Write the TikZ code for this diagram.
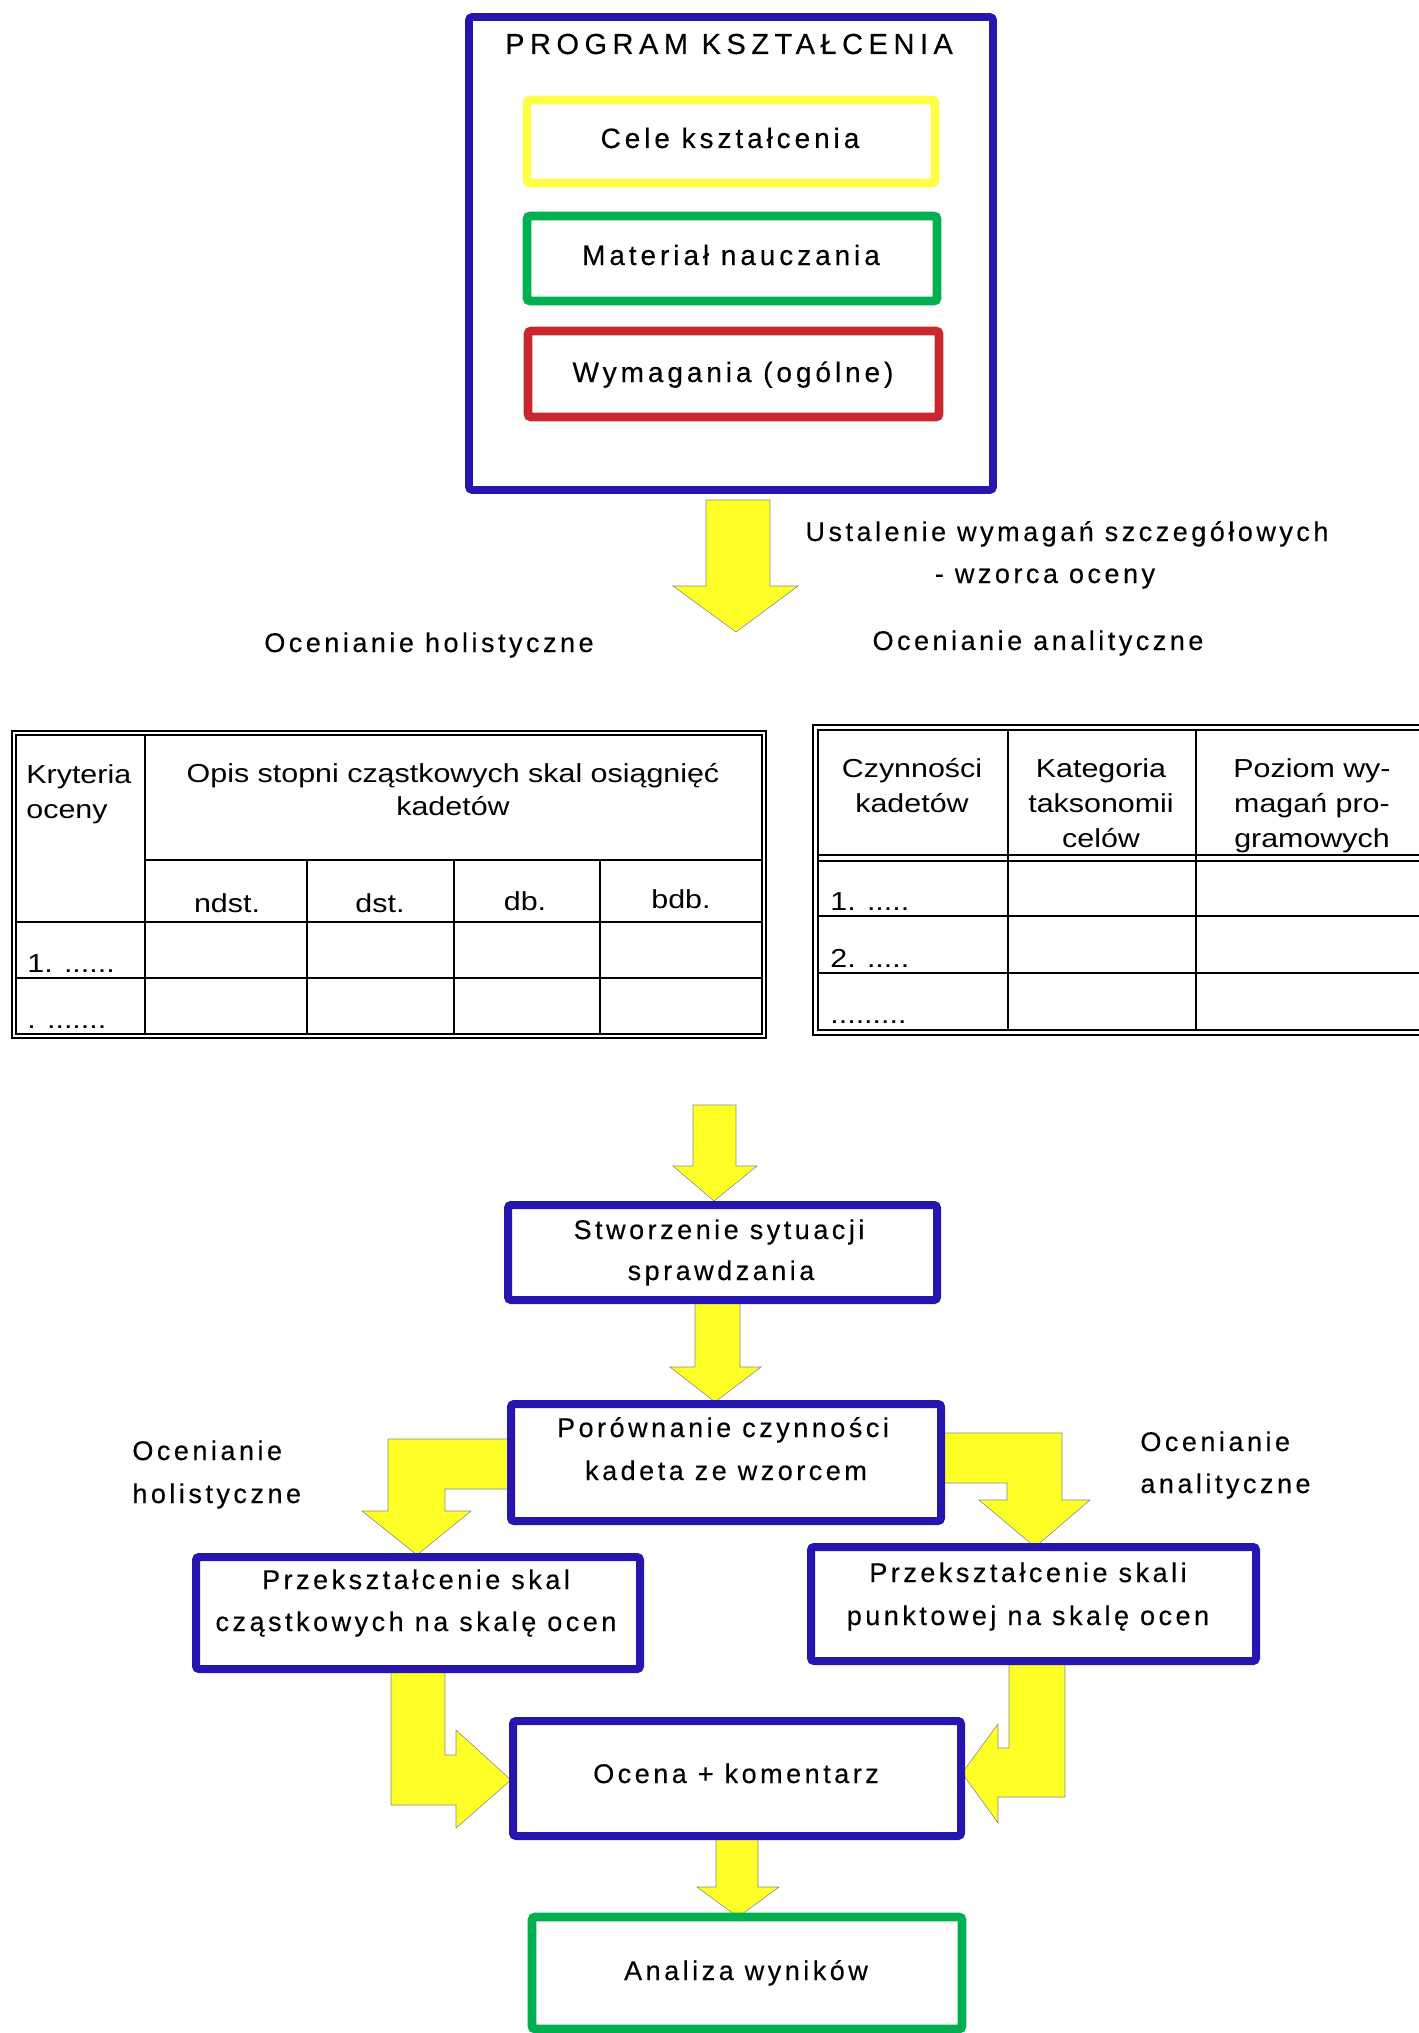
\documentclass[tikz,border=0pt]{standalone}
\usepackage{fontspec}
\setmainfont{Liberation Sans}
\newfontfamily\tabfont[FakeStretch=1.17]{Liberation Sans}
\newfontfamily\flowfont[LetterSpace=13,FakeBold=0.3]{Liberation Sans}
\newfontfamily\innerfont[LetterSpace=14,FakeBold=0.3]{Liberation Sans}
\newfontfamily\titlefont[LetterSpace=19,FakeBold=0.3]{Liberation Sans}
\definecolor{boxblue}{RGB}{38,22,175}
\definecolor{boxyellow}{RGB}{255,255,70}
\definecolor{boxgreen}{RGB}{0,175,80}
\definecolor{boxred}{RGB}{200,40,45}
\definecolor{arrowyellow}{RGB}{255,255,40}
\tikzset{
  framebox/.style={draw, rounded corners=1.5pt, inner sep=0pt},
  bluebox/.style={framebox, draw=boxblue, line width=4pt},
  topframe/.style={framebox, draw=boxblue, line width=3.8pt},
  yelbox/.style={framebox, draw=boxyellow, line width=4.3pt},
  grnbox/.style={framebox, draw=boxgreen, line width=4.3pt},
  redbox/.style={framebox, draw=boxred, line width=4.3pt},
  blockarrow/.style={fill=arrowyellow, draw=black!45, line width=0.3pt},
  tabline/.style={draw=black, line width=1pt},
  ttl/.style={inner sep=0pt, anchor=base, font=\titlefont\fontsize{14.5}{17}\selectfont},
  inn/.style={inner sep=0pt, anchor=base, font=\innerfont\fontsize{14}{17}\selectfont},
  flw/.style={inner sep=0pt, anchor=base, font=\flowfont\fontsize{13.5}{16}\selectfont},
  flwl/.style={inner sep=0pt, anchor=base west, font=\flowfont\fontsize{13.5}{16}\selectfont},
  tab/.style={inner sep=0pt, anchor=base, font=\tabfont\fontsize{13}{15}\selectfont},
  tabl/.style={inner sep=0pt, anchor=base west, font=\tabfont\fontsize{13}{15}\selectfont},
}
\begin{document}
\begin{tikzpicture}[x=0.5pt,y=-0.5pt]
\useasboundingbox (0,0) rectangle (1418,2033);
\fill[white] (0,0) rectangle (1418,2033);

% ---------- block arrows ----------
\draw[blockarrow] (706,500) -- (770,500) -- (770,586) -- (798,586) -- (736,632) -- (673,586) -- (706,586) -- cycle;
\draw[blockarrow] (693,1105) -- (736,1105) -- (736,1166) -- (757,1166) -- (714,1201) -- (673,1166) -- (693,1166) -- cycle;
\draw[blockarrow] (695,1302) -- (740,1302) -- (740,1367) -- (761,1367) -- (715,1402) -- (670,1367) -- (695,1367) -- cycle;
\draw[blockarrow] (511,1439) -- (388,1439) -- (388,1511) -- (362,1511) -- (417,1555) -- (471,1511) -- (445,1511) -- (445,1489) -- (511,1489) -- cycle;
\draw[blockarrow] (941,1433) -- (1062,1433) -- (1062,1500) -- (1090,1500) -- (1035,1547) -- (979,1500) -- (1007,1500) -- (1007,1483) -- (941,1483) -- cycle;
\draw[blockarrow] (391,1669) -- (445,1669) -- (445,1755) -- (456,1755) -- (456,1730) -- (511,1780) -- (456,1828) -- (456,1805) -- (391,1805) -- cycle;
\draw[blockarrow] (1065,1661) -- (1009,1661) -- (1009,1748) -- (998,1748) -- (998,1724) -- (962,1773) -- (998,1823) -- (998,1797) -- (1065,1797) -- cycle;
\draw[blockarrow] (716,1836) -- (758,1836) -- (758,1887) -- (779,1887) -- (738,1917) -- (697,1887) -- (716,1887) -- cycle;

% ---------- top program box ----------
\node[topframe, minimum width=262pt, minimum height=236.5pt] (topbox) at (731,253.5) {};
\node[yelbox, minimum width=204pt, minimum height=41.5pt] (cele) at (731,141.5) {};
\node[grnbox, minimum width=205pt, minimum height=42.5pt] (material) at (732,258.5) {};
\node[redbox, minimum width=205.5pt, minimum height=43pt] (wymag) at (733.5,374) {};
\node[ttl] (t-prog) at (729,54) {PROGRAM KSZTAŁCENIA};
\node[inn] (t-cele) at (730,148) {Cele kształcenia};
\node[inn] (t-mat) at (731,265) {Materiał nauczania};
\node[inn] (t-wym) at (733,382) {Wymagania (ogólne)};

\node[flw] (t-ust1) at (1067,541) {Ustalenie wymagań szczegółowych};
\node[flw] (t-ust2) at (1045,583) {- wzorca oceny};
\node[flw] (t-holtop) at (429,652) {Ocenianie holistyczne};
\node[flw] (t-anatop) at (1038,650) {Ocenianie analityczne};

% ---------- left table ----------
\draw[tabline] (12,731) rectangle (766,1038);
\draw[tabline] (16,735) rectangle (762,1034);
\draw[tabline] (145,735) -- (145,1034);
\draw[tabline] (145,860) -- (762,860);
\draw[tabline] (307,860) -- (307,1034);
\draw[tabline] (454,860) -- (454,1034);
\draw[tabline] (600,860) -- (600,1034);
\draw[tabline] (16,922) -- (762,922);
\draw[tabline] (16,978) -- (762,978);
\node[tabl] (t-kry1) at (26,783) {Kryteria};
\node[tabl] (t-kry2) at (26,818) {oceny};
\node[tab] (t-opis1) at (453,782) {Opis stopni cząstkowych skal osiągnięć};
\node[tab] (t-opis2) at (453,815) {kadetów};
\node[tab] (t-ndst) at (227,912) {ndst.};
\node[tab] (t-dst) at (380,912) {dst.};
\node[tab] (t-db) at (525,910) {db.};
\node[tab] (t-bdb) at (681,908) {bdb.};
\node[tabl] (t-l1) at (27,972) {1. ......};
\node[tabl] (t-l2) at (27,1028) {. .......};

% ---------- right table ----------
\draw[tabline] (1425,725) -- (813,725) -- (813,1035) -- (1425,1035);
\draw[tabline] (1425,730) -- (818,730) -- (818,1030) -- (1425,1030);
\draw[tabline] (1008,730) -- (1008,1030);
\draw[tabline] (1196,730) -- (1196,1030);
\draw[tabline] (818,855) -- (1425,855);
\draw[tabline] (818,861) -- (1425,861);
\draw[tabline] (818,916) -- (1425,916);
\draw[tabline] (818,973) -- (1425,973);
\node[tab] (t-czy1) at (912,777) {Czynności};
\node[tab] (t-czy2) at (912,812) {kadetów};
\node[tab] (t-kat1) at (1101,777) {Kategoria};
\node[tab] (t-kat2) at (1101,812) {taksonomii};
\node[tab] (t-kat3) at (1101,847) {celów};
\node[tab] (t-poz1) at (1312,777) {Poziom wy-};
\node[tab] (t-poz2) at (1312,812) {magań pro-};
\node[tab] (t-poz3) at (1312,847) {gramowych};
\node[tabl] (t-r1) at (830,910) {1. .....};
\node[tabl] (t-r2) at (830,967) {2. .....};
\node[tabl] (t-r3) at (830,1023) {.........};

% ---------- lower flow ----------
\node[bluebox, minimum width=214.5pt, minimum height=47.5pt] (stworz) at (722.5,1252.5) {};
\node[flw] (t-stw1) at (719,1239) {Stworzenie sytuacji};
\node[flw] (t-stw2) at (721,1280) {sprawdzania};

\node[bluebox, minimum width=215pt, minimum height=58.5pt] (porown) at (726,1462.5) {};
\node[flw] (t-por1) at (723,1437) {Porównanie czynności};
\node[flw] (t-por2) at (726,1480) {kadeta ze wzorcem};

\node[flwl] (t-hol1) at (132,1460) {Ocenianie};
\node[flwl] (t-hol2) at (132,1503) {holistyczne};
\node[flwl] (t-ana1) at (1140,1451) {Ocenianie};
\node[flwl] (t-ana2) at (1140,1493) {analityczne};

\node[bluebox, minimum width=222pt, minimum height=56pt] (przL) at (418,1613) {};
\node[flw] (t-pl1) at (416,1589) {Przekształcenie skal};
\node[flw] (t-pl2) at (416,1631) {cząstkowych na skalę ocen};

\node[bluebox, minimum width=222.5pt, minimum height=57pt] (przR) at (1033.5,1604) {};
\node[flw] (t-pr1) at (1028,1582) {Przekształcenie skali};
\node[flw] (t-pr2) at (1028,1625) {punktowej na skalę ocen};

\node[bluebox, minimum width=224pt, minimum height=57.5pt] (ocena) at (737,1778.5) {};
\node[flw] (t-oc) at (736,1783) {Ocena + komentarz};

\node[grnbox, minimum width=215pt, minimum height=56pt] (analiza) at (747,1973) {};
\node[flw] (t-an) at (746,1980) {Analiza wyników};
\end{tikzpicture}
\end{document}
